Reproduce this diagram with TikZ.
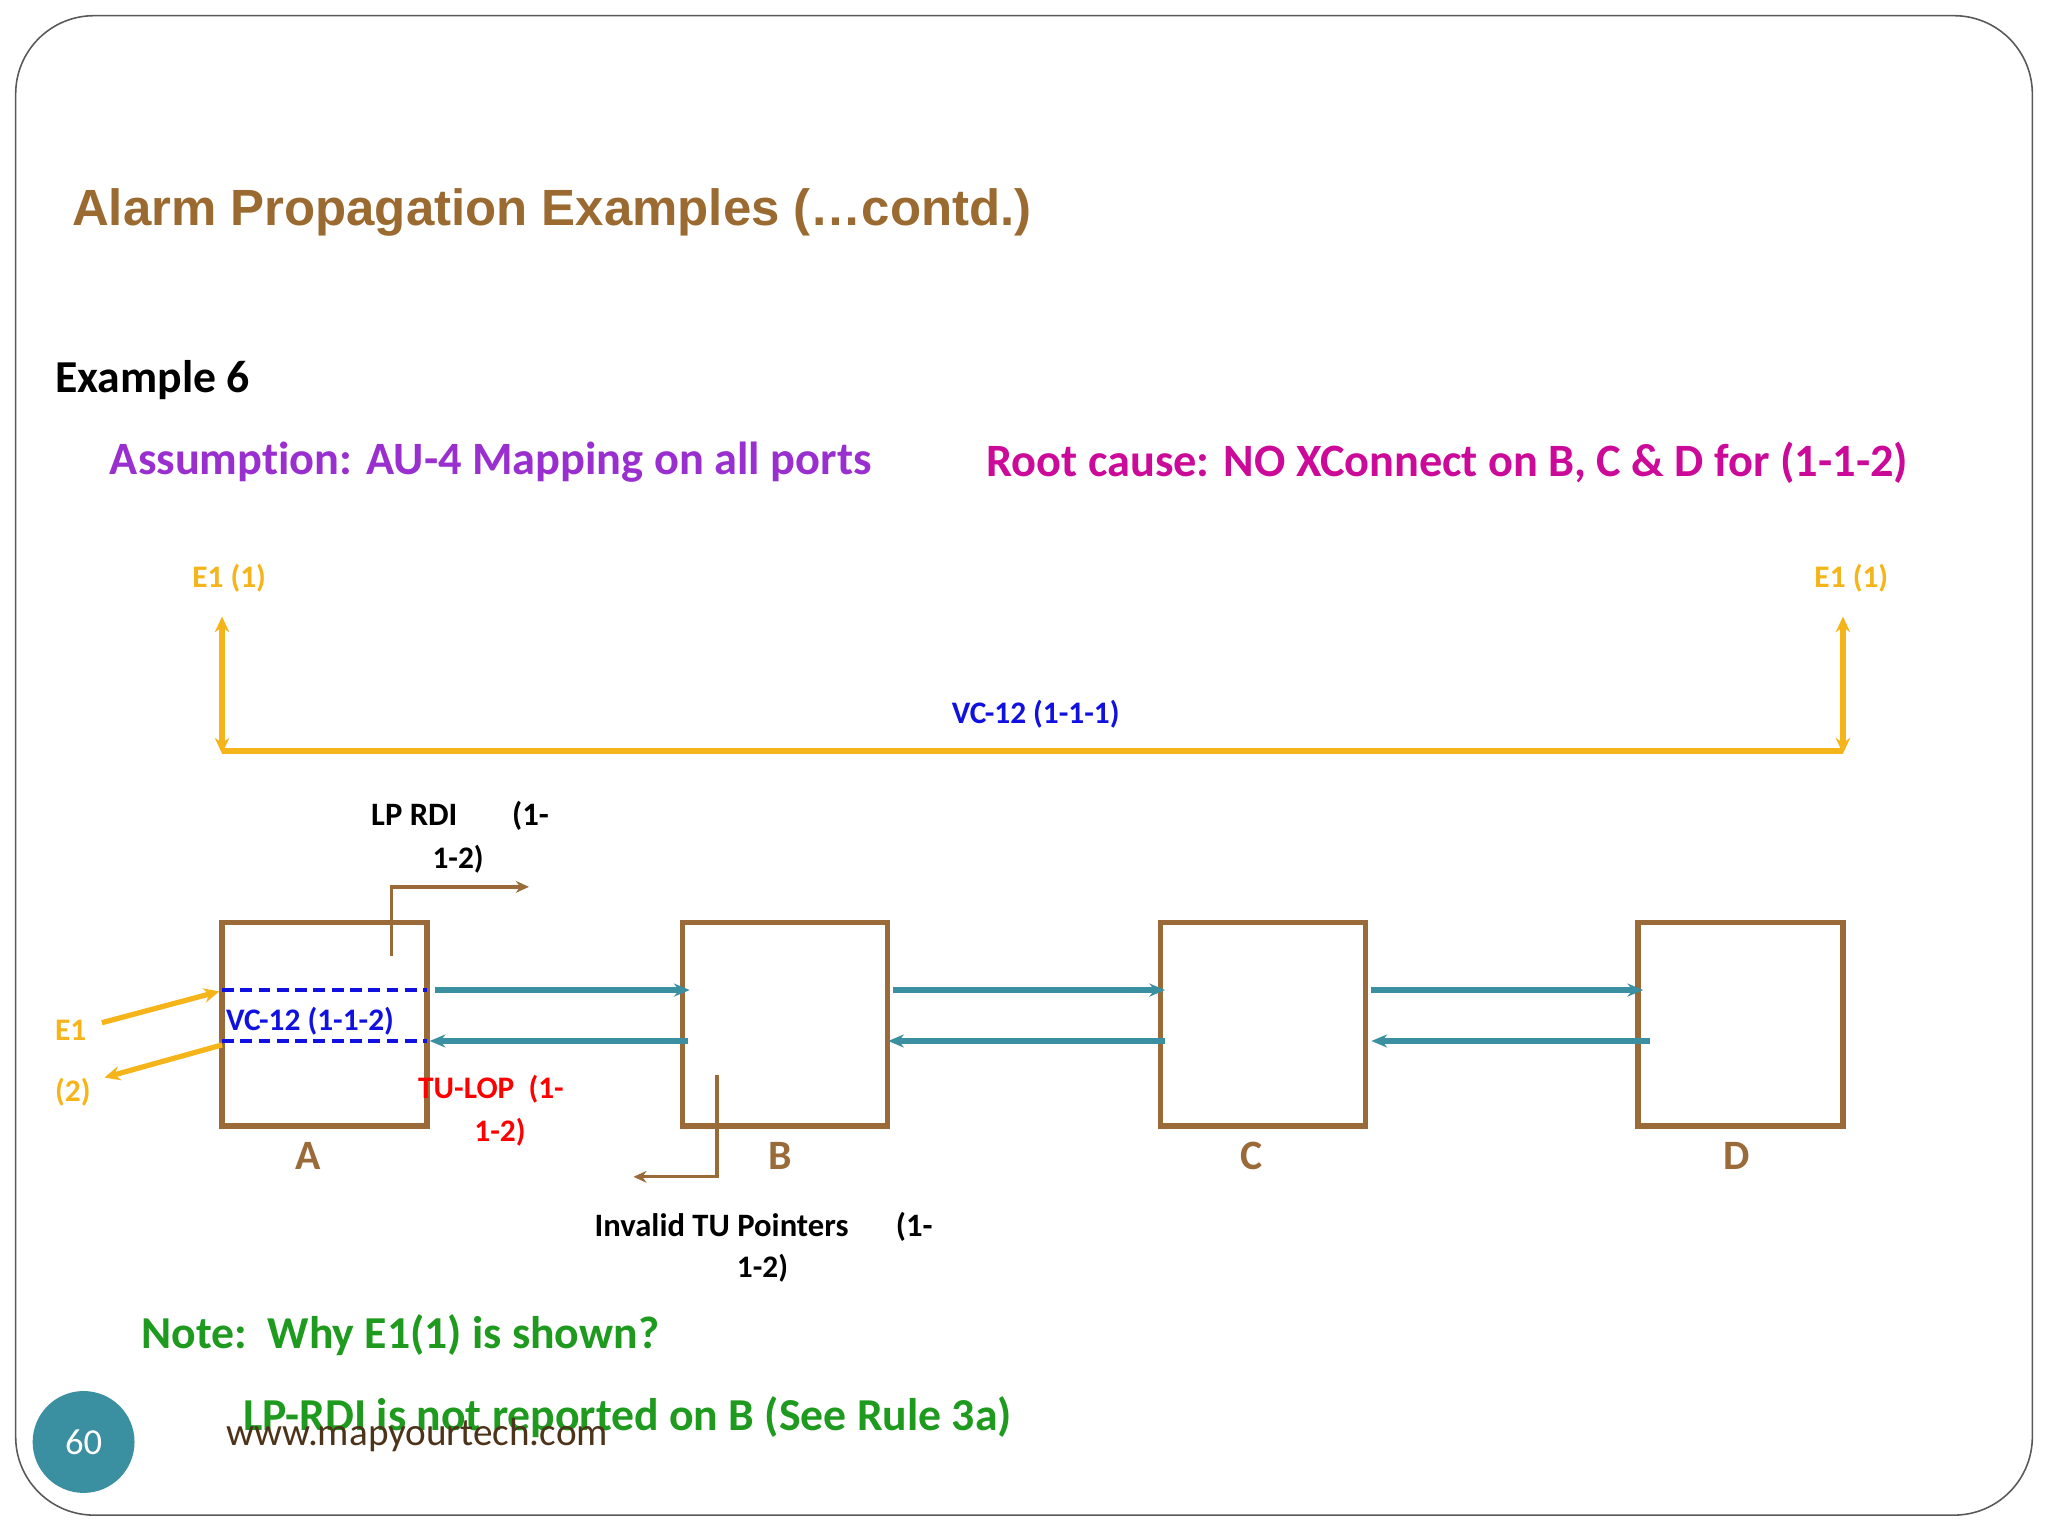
\documentclass[tikz,border=0pt]{standalone}
\usepackage{fontspec}
\setmainfont{Carlito}[Ligatures={NoCommon}]
\newfontfamily\arialf{Liberation Sans}
\definecolor{brn}{HTML}{9A6A38}
\definecolor{ttl}{HTML}{9A6A30}
\definecolor{org}{HTML}{F5B51A}
\definecolor{teal}{HTML}{3A8FA0}
\definecolor{blu}{HTML}{1010E0}
\definecolor{grn}{HTML}{1E9A1E}
\definecolor{pur}{HTML}{9A2FD0}
\definecolor{mag}{HTML}{CC0A99}
\usetikzlibrary{arrows.meta}
\tikzset{
 box/.style={draw=brn,line width=4pt,minimum width=157pt,minimum height=156pt,inner sep=0},
 tl/.style={draw=teal,line width=4pt,-{Stealth[length=12pt,width=10pt]}},
 ol/.style={draw=org,line width=4pt},
 txt/.style={anchor=west,inner sep=0}
}
\begin{document}
\begin{tikzpicture}[x=1pt,y=-1pt]
\useasboundingbox (0,0) rectangle (1568,1176);
\fill[white] (0,0) rectangle (1568,1176);
\draw[gray!70!black,line width=1.2pt,rounded corners=60pt] (12,12) rectangle (1556,1160);
\node[txt,text=ttl,font=\arialf\bfseries\fontsize{39}{39}\selectfont] (title) at (55,163) {Alarm Propagation Examples (…contd.)};
\node[txt,font=\bfseries\fontsize{35}{35}\selectfont] (ex) at (42,291) {Example 6};
\node[txt,text=pur,font=\bfseries\fontsize{35.5}{35}\selectfont] (as) at (84,354) {Assumption: AU-4 Mapping on all ports};
\node[txt,text=mag,font=\bfseries\fontsize{35.5}{35}\selectfont] (rc) at (755,354) {Root cause: NO XConnect on B, C \& D for (1-1-2)};
% E1(1)
\node[txt,text=org,font=\bfseries\fontsize{24}{24}\selectfont] (e1l) at (147,443) {E1 (1)};
\node[txt,text=org,font=\bfseries\fontsize{24}{24}\selectfont] (e1r) at (1389,443) {E1 (1)};
\coordinate (lt) at (170,472); \coordinate (lb) at (170,577);
\coordinate (rt) at (1411,472); \coordinate (rb) at (1411,577);
\draw[ol,{Stealth[length=12pt,width=11pt]}-{Stealth[length=12pt,width=11pt]}] (lt) -- (lb);
\draw[ol,{Stealth[length=12pt,width=11pt]}-{Stealth[length=12pt,width=11pt]}] (rt) -- (rb);
\draw[ol] (170,575) -- (1411,575);
\node[text=blu,font=\bfseries\fontsize{24}{24}\selectfont] (vc1) at (793,547) {VC-12 (1-1-1)};
% boxes
\node[box] (A) at (248.5,784) {};
\node[box] (B) at (601,784) {};
\node[box] (C) at (967,784) {};
\node[box] (D) at (1332.5,784) {};
\foreach \n/\x in {A/236,B/597,C/958,D/1330}
  \node[text=brn,font=\bfseries\fontsize{32}{32}\selectfont] (l\n) at (\x,885) {\n};
% teal arrows
\draw[tl] (333,758) -- (528,758);
\draw[tl] (684,758) -- (892,758);
\draw[tl] (1050,758) -- (1258,758);
\draw[tl] (527,797) -- (329,797);
\draw[tl] (892,797) -- (680,797);
\draw[tl] (1263,797) -- (1050,797);
% dashed
\draw[blu,line width=3pt,dash pattern=on 9pt off 5pt] (170,758) -- (327,758);
\draw[blu,line width=3pt,dash pattern=on 9pt off 5pt] (170,797) -- (327,797);
\node[txt,text=blu,font=\bfseries\fontsize{24}{24}\selectfont] (vc2) at (173,782) {VC-12 (1-1-2)};
% E1 (2)
\draw[ol,-{Stealth[length=12pt,width=11pt]}] (78,783) -- (168,759);
\draw[ol,-{Stealth[length=12pt,width=11pt]}] (170,800) -- (80,825);
\node[txt,text=org,font=\bfseries\fontsize{24}{24}\selectfont] (e1) at (42,789) {E1};
\node[txt,text=org,font=\bfseries\fontsize{24}{24}\selectfont] (e2) at (42,836) {(2)};
% LP RDI
\draw[brn,line width=2.5pt,-{Stealth[length=10pt,width=9pt]}] (300,732) -- (300,679) -- (405,679);
\node[txt,font=\bfseries\fontsize{25}{25}\selectfont] (lp1) at (284,625) {LP RDI \quad\ \ (1-};
\node[txt,font=\bfseries\fontsize{24}{24}\selectfont] (lp2) at (331,658) {1-2)};
% TU-LOP
\node[txt,text=red,font=\bfseries\fontsize{24}{24}\selectfont] (tu1) at (320,834) {TU-LOP\ \ (1-};
\node[txt,text=red,font=\bfseries\fontsize{24}{24}\selectfont] (tu2) at (363,867) {1-2)};
% invalid TU
\draw[brn,line width=2.5pt,-{Stealth[length=10pt,width=9pt]}] (549,823) -- (549,901) -- (485,901);
\node[txt,font=\bfseries\fontsize{25}{25}\selectfont] (iv1) at (455,939) {Invalid TU Pointers \quad\ (1-};
\node[txt,font=\bfseries\fontsize{24}{24}\selectfont] (iv2) at (564,971) {1-2)};
% notes
\node[txt,text=grn,font=\bfseries\fontsize{35}{35}\selectfont] (n1) at (108,1022) {Note:\ \ Why E1(1) is shown?};
\node[txt,text=grn,font=\bfseries\fontsize{35}{35}\selectfont] (n2) at (186,1085) {LP-RDI is not reported on B (See Rule 3a)};
\node[txt,text=black!60!brown,font=\fontsize{30}{30}\selectfont] (www) at (173,1099) {www.mapyourtech.com};
\node[circle,fill=teal,minimum size=78pt,inner sep=0,text=white,font=\fontsize{28}{28}\selectfont] (pg) at (64,1104) {60};
\end{tikzpicture}
\end{document}
